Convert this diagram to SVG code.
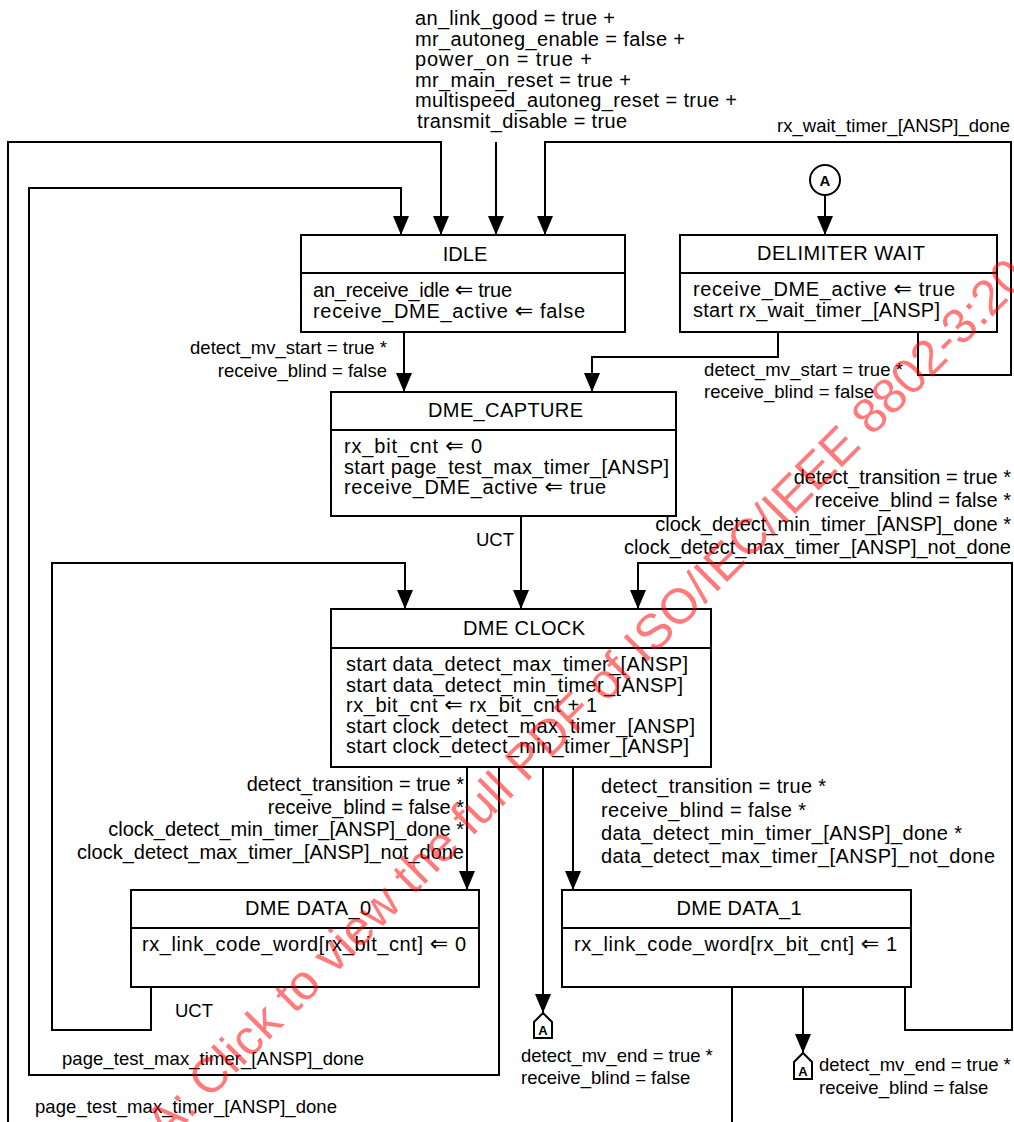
<svg xmlns="http://www.w3.org/2000/svg" width="1014" height="1122" viewBox="0 0 1014 1122">
<style>
text { font-family: "Liberation Sans", Arial, "DejaVu Sans", sans-serif; font-size: 20px; fill: #000; }
text.s { font-size: 18.5px; }
text.c { text-anchor: middle; }
text.e { text-anchor: end; }
text.k { font-weight: bold; font-size: 15px; text-anchor: middle; }
tspan.a { font-family: "DejaVu Sans", sans-serif; font-size: 22px; }
.box { fill: #fff; stroke: #000; stroke-width: 2; }
.div { stroke: #000; stroke-width: 2; }
.ln { fill: none; stroke: #000; stroke-width: 2; }
.ar { marker-end: url(#arr); }
text.wm { font-size: 49.5px; fill: #ff0000; fill-opacity: 0.52; }
</style>
<defs>
<marker id="arr" markerUnits="userSpaceOnUse" markerWidth="19" markerHeight="16" refX="19" refY="8" orient="auto">
<path d="M0,0 L19,8 L0,16 Z" fill="#000"/>
</marker>
</defs>

<g id="connectors">
<path class="ln ar" d="M496,142 V235"/>
<path class="ln ar" d="M8,1122 V142 H441 V235"/>
<path class="ln ar" d="M499,767 V1075 H29 V188 H401 V235"/>
<path class="ln ar" d="M918,332 V375 H1011 V142 H545 V235"/>
<path class="ln ar" d="M825,195 V235"/>
<path class="ln ar" d="M404,332 V392"/>
<path class="ln ar" d="M778,332 V357 H592 V392"/>
<path class="ln ar" d="M521,516 V609"/>
<path class="ln ar" d="M151,987 V1030 H52 V563 H405 V609"/>
<path class="ln ar" d="M905,987 V1030 H1012 V563 H638 V609"/>
<path class="ln ar" d="M467,767 V890"/>
<path class="ln ar" d="M573,767 V890"/>
<path class="ln ar" d="M543,767 V1013"/>
<path class="ln ar" d="M803,987 V1053"/>
<path class="ln" d="M732,987 V1122"/>
</g>

<g id="labels">
<text x="415" y="25" textLength="200">an_link_good = true +</text>
<text x="415" y="45.5" textLength="270">mr_autoneg_enable = false +</text>
<text x="415" y="66" textLength="177">power_on = true +</text>
<text x="415" y="86.5" textLength="216">mr_main_reset = true +</text>
<text x="415" y="107" textLength="322">multispeed_autoneg_reset = true +</text>
<text x="417" y="128" textLength="210">transmit_disable = true</text>
<text class="s" x="777" y="132" textLength="233">rx_wait_timer_[ANSP]_done</text>

<text class="s e" x="387" y="354">detect_mv_start = true *</text>
<text class="s e" x="387" y="377">receive_blind = false</text>
<text class="s" x="704" y="376" textLength="199">detect_mv_start = true *</text>
<text class="s" x="704" y="398" textLength="170">receive_blind = false</text>

<text class="e" x="1011" y="484">detect_transition = true *</text>
<text class="e" x="1011" y="507">receive_blind = false *</text>
<text class="e" x="1011" y="530.5">clock_detect_min_timer_[ANSP]_done *</text>
<text class="e" x="1011" y="553.5">clock_detect_max_timer_[ANSP]_not_done</text>
<text class="s" x="476" y="546">UCT</text>

<text class="e" x="464" y="791">detect_transition = true *</text>
<text class="e" x="464" y="813.5">receive_blind = false *</text>
<text class="e" x="464" y="836">clock_detect_min_timer_[ANSP]_done *</text>
<text class="e" x="464" y="859">clock_detect_max_timer_[ANSP]_not_done</text>

<text x="601" y="793" textLength="225">detect_transition = true *</text>
<text x="601" y="816.5" textLength="205">receive_blind = false *</text>
<text x="601" y="840" textLength="361">data_detect_min_timer_[ANSP]_done *</text>
<text x="601" y="862.5" textLength="394">data_detect_max_timer_[ANSP]_not_done</text>

<text class="s" x="175" y="1017">UCT</text>
<text class="s" x="62" y="1065" textLength="302">page_test_max_timer_[ANSP]_done</text>
<text class="s" x="35" y="1113" textLength="302">page_test_max_timer_[ANSP]_done</text>
<text class="s" x="521" y="1062">detect_mv_end = true *</text>
<text class="s" x="521" y="1083.5">receive_blind = false</text>
<text class="s" x="819" y="1071">detect_mv_end = true *</text>
<text class="s" x="819" y="1093.5">receive_blind = false</text>
</g>

<g id="connA_top">
<circle cx="825" cy="180" r="15" fill="#fff" stroke="#000" stroke-width="2"/>
<text class="k" x="825" y="186">A</text>
</g>
<g id="connA_1">
<polygon points="543,1013 552,1022 552,1038 534,1038 534,1022" fill="#fff" stroke="#000" stroke-width="2"/>
<text class="k" x="543" y="1035" style="font-size:13px">A</text>
</g>
<g id="connA_2">
<polygon points="803,1053 812,1062 812,1079 794,1079 794,1062" fill="#fff" stroke="#000" stroke-width="2"/>
<text class="k" x="803" y="1076" style="font-size:13px">A</text>
</g>

<g id="idle">
<rect class="box" x="301" y="235" width="324" height="97"/>
<line class="div" x1="301" y1="273" x2="625" y2="273"/>
<text class="c" x="465" y="261">IDLE</text>
<text x="313" y="297" textLength="199">an_receive_idle <tspan class="a">⇐</tspan> true</text>
<text x="313" y="317.5" textLength="272">receive_DME_active <tspan class="a">⇐</tspan> false</text>
</g>

<g id="delimiter_wait">
<rect class="box" x="680" y="235" width="317" height="97"/>
<line class="div" x1="680" y1="273" x2="997" y2="273"/>
<text class="c" x="841" y="260" textLength="168">DELIMITER WAIT</text>
<text x="693" y="296" textLength="262">receive_DME_active <tspan class="a">⇐</tspan> true</text>
<text x="693" y="317" textLength="247">start rx_wait_timer_[ANSP]</text>
</g>

<g id="dme_capture">
<rect class="box" x="331" y="392" width="345" height="124"/>
<line class="div" x1="331" y1="430" x2="676" y2="430"/>
<text class="c" x="505.5" y="417" textLength="155">DME_CAPTURE</text>
<text x="344" y="453" textLength="138">rx_bit_cnt <tspan class="a">⇐</tspan> 0</text>
<text x="344" y="473.5" textLength="325">start page_test_max_timer_[ANSP]</text>
<text x="344" y="494" textLength="262">receive_DME_active <tspan class="a">⇐</tspan> true</text>
</g>

<g id="dme_clock">
<rect class="box" x="331" y="609" width="380" height="158"/>
<line class="div" x1="331" y1="648" x2="711" y2="648"/>
<text class="c" x="524" y="635" textLength="122">DME CLOCK</text>
<text x="346" y="671" textLength="342">start data_detect_max_timer_[ANSP]</text>
<text x="346" y="691.5" textLength="337">start data_detect_min_timer_[ANSP]</text>
<text x="346" y="712" textLength="251">rx_bit_cnt <tspan class="a">⇐</tspan> rx_bit_cnt + 1</text>
<text x="346" y="732.5" textLength="349">start clock_detect_max_timer_[ANSP]</text>
<text x="346" y="753" textLength="343">start clock_detect_min_timer_[ANSP]</text>
</g>

<g id="dme_data_0">
<rect class="box" x="131" y="890" width="348" height="97"/>
<line class="div" x1="131" y1="928" x2="479" y2="928"/>
<text class="c" x="308" y="915" textLength="126">DME DATA_0</text>
<text x="142" y="951" textLength="324">rx_link_code_word[rx_bit_cnt] <tspan class="a">⇐</tspan> 0</text>
</g>

<g id="dme_data_1">
<rect class="box" x="562" y="890" width="349" height="97"/>
<line class="div" x1="562" y1="928" x2="911" y2="928"/>
<text class="c" x="739" y="915" textLength="125">DME DATA_1</text>
<text x="574" y="951" textLength="323">rx_link_code_word[rx_bit_cnt] <tspan class="a">⇐</tspan> 1</text>
</g>

<text class="wm" x="166" y="1143" transform="rotate(-45 166 1143)">A: Click to view the full PDF of ISO/IEC/IEEE 8802-3:20</text>
</svg>
